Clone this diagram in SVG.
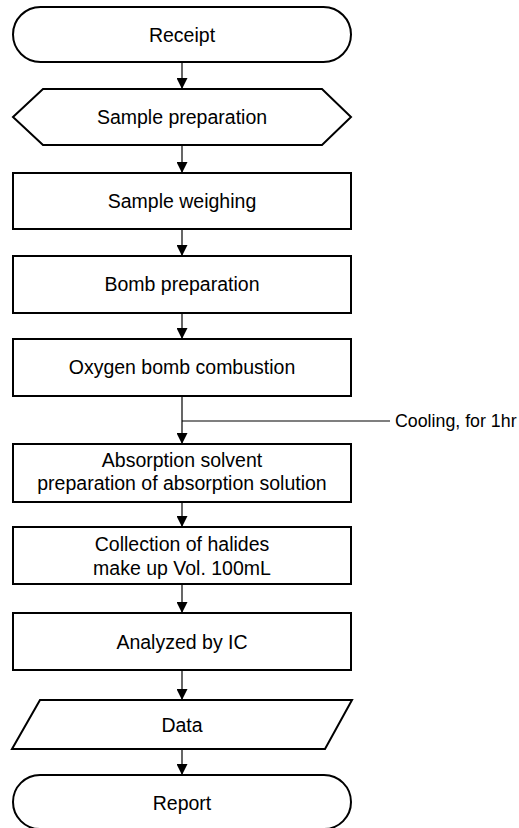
<svg xmlns="http://www.w3.org/2000/svg" width="519" height="828" viewBox="0 0 519 828">
<style>
.n{fill:#fff;stroke:#000;stroke-width:2}
.t{font-family:"Liberation Sans",Arial,sans-serif;font-size:19.5px;fill:#000;text-anchor:middle}
.c{stroke:#000;stroke-width:1.2;fill:none}
.lbl{font-family:"Liberation Sans",Arial,sans-serif;font-size:17.8px;fill:#000}
</style>
<defs>
<marker id="ah" markerUnits="userSpaceOnUse" markerWidth="11" markerHeight="11" viewBox="0 0 11 11" refX="11" refY="5.5" orient="auto">
<path d="M0,0 L11,5.5 L0,11 z" fill="#000"/>
</marker>
</defs>
<g id="connectors">
<line class="c" x1="182" y1="62" x2="182" y2="89" marker-end="url(#ah)"/>
<line class="c" x1="182" y1="145" x2="182" y2="173" marker-end="url(#ah)"/>
<line class="c" x1="182" y1="229" x2="182" y2="256" marker-end="url(#ah)"/>
<line class="c" x1="182" y1="313" x2="182" y2="339" marker-end="url(#ah)"/>
<line class="c" x1="182" y1="396" x2="182" y2="444" marker-end="url(#ah)"/>
<line class="c" x1="182" y1="421" x2="390" y2="421"/>
<line class="c" x1="182" y1="502" x2="182" y2="527" marker-end="url(#ah)"/>
<line class="c" x1="182" y1="584" x2="182" y2="613" marker-end="url(#ah)"/>
<line class="c" x1="182" y1="670" x2="182" y2="700" marker-end="url(#ah)"/>
<line class="c" x1="182" y1="749" x2="182" y2="775" marker-end="url(#ah)"/>
<text class="lbl" x="395" y="427">Cooling, for 1hr</text>
</g>
<g id="receipt">
<rect class="n" x="13" y="7" width="338" height="55" rx="27.5" ry="27.5"/>
<text class="t" x="182" y="42">Receipt</text>
</g>
<g id="sample-preparation">
<polygon class="n" points="13,117 43,89 322,89 351,117 322,145 43,145"/>
<text class="t" x="182" y="124">Sample preparation</text>
</g>
<g id="sample-weighing">
<rect class="n" x="13" y="173" width="338" height="56"/>
<text class="t" x="182" y="208">Sample weighing</text>
</g>
<g id="bomb-preparation">
<rect class="n" x="13" y="256" width="338" height="57"/>
<text class="t" x="182" y="291">Bomb preparation</text>
</g>
<g id="oxygen-bomb-combustion">
<rect class="n" x="13" y="339" width="338" height="57"/>
<text class="t" x="182" y="374">Oxygen bomb combustion</text>
</g>
<g id="absorption">
<rect class="n" x="13" y="444" width="338" height="58"/>
<text class="t" x="182" y="467">Absorption solvent</text>
<text class="t" x="182" y="490">preparation of absorption solution</text>
</g>
<g id="collection">
<rect class="n" x="13" y="527" width="338" height="57"/>
<text class="t" x="182" y="551">Collection of halides</text>
<text class="t" x="182" y="575">make up Vol. 100mL</text>
</g>
<g id="analyzed">
<rect class="n" x="13" y="613" width="338" height="57"/>
<text class="t" x="182" y="649">Analyzed by IC</text>
</g>
<g id="data">
<polygon class="n" points="40,700 352,700 325,749 12,749"/>
<text class="t" x="182" y="732">Data</text>
</g>
<g id="report">
<rect class="n" x="13" y="775" width="338" height="54" rx="27" ry="27"/>
<text class="t" x="182" y="810">Report</text>
</g>
</svg>
